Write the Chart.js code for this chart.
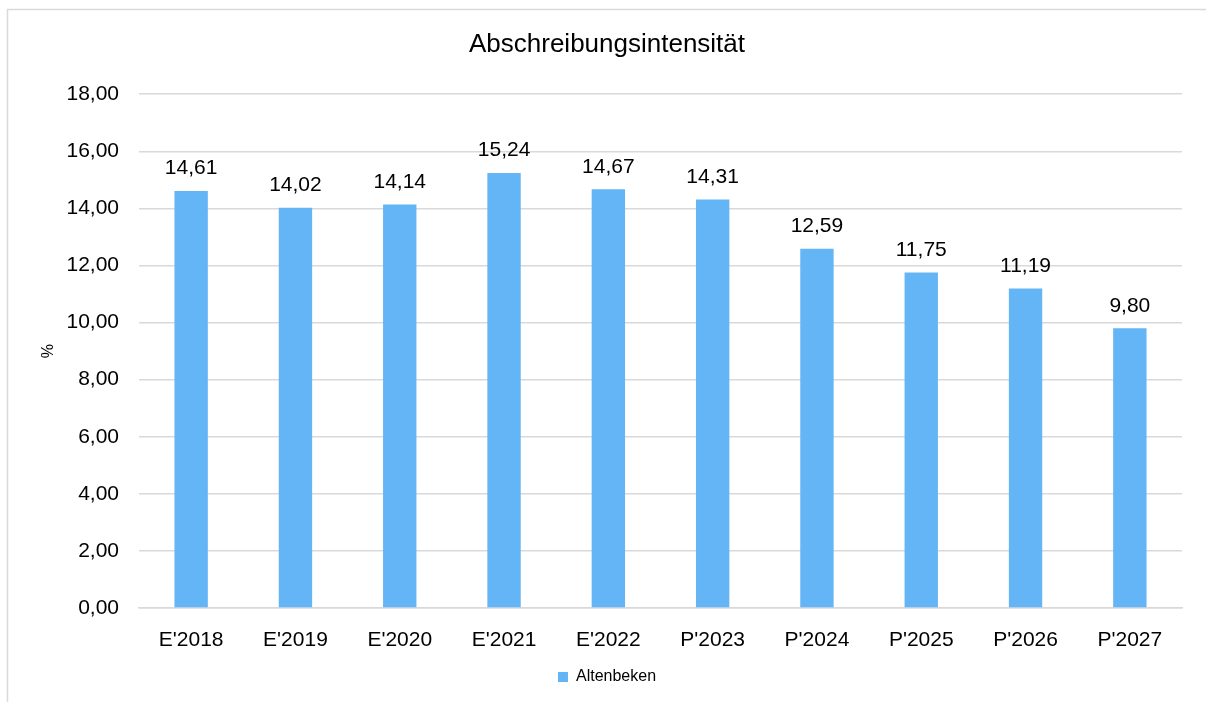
<!DOCTYPE html>
<html lang="de">
<head>
    <meta charset="UTF-8">
    <title>Abschreibungsintensität</title>
    <script src="https://cdn.jsdelivr.net/npm/chart.js"></script>
    <style>
        html, body { margin: 0; padding: 0; background: #fff; }
        #wrap { width: 1206px; height: 702px; }
    </style>
</head>
<body>
    <div id="wrap"><canvas id="chart"></canvas></div>
    <script>
        const categories = ["E'2018", "E'2019", "E'2020", "E'2021", "E'2022", "P'2023", "P'2024", "P'2025", "P'2026", "P'2027"];
        const values = [14.61, 14.02, 14.14, 15.24, 14.67, 14.31, 12.59, 11.75, 11.19, 9.80];
        const seriesName = 'Altenbeken';

        const fontFamily = '"Liberation Sans", Arial, sans-serif';
        const fmt = v => v.toFixed(2).replace('.', ',');

        // Rahmen um das Diagramm
        const framePlugin = {
            id: 'frame',
            beforeDraw(chart) {
                const c = chart.ctx;
                c.save();
                c.strokeStyle = '#d9d9d9';
                c.lineWidth = 1.5;
                c.beginPath();
                c.moveTo(7.5, 702);
                c.lineTo(7.5, 9.5);
                c.lineTo(1206, 9.5);
                c.stroke();
                c.restore();
            }
        };

        // Werte über den Balken
        const labelPlugin = {
            id: 'barLabels',
            afterDatasetsDraw(chart) {
                const c = chart.ctx;
                const meta = chart.getDatasetMeta(0);
                c.save();
                c.font = '21px ' + fontFamily;
                c.fillStyle = '#000';
                c.textAlign = 'center';
                c.textBaseline = 'bottom';
                meta.data.forEach((bar, i) => {
                    c.fillText(fmt(values[i]), bar.x, bar.y - 12);
                });
                c.restore();
            }
        };

        new Chart(document.getElementById('chart'), {
            type: 'bar',
            data: {
                labels: categories,
                datasets: [{
                    label: seriesName,
                    data: values,
                    backgroundColor: '#63b5f6',
                    borderWidth: 0,
                    categoryPercentage: 1,
                    barPercentage: 0.32
                }]
            },
            options: {
                responsive: true,
                maintainAspectRatio: false,
                animation: false,
                layout: { padding: { left: 32, right: 24, top: 23, bottom: 7 } },
                plugins: {
                    title: {
                        display: true,
                        text: 'Abschreibungsintensität',
                        color: '#000',
                        font: { family: fontFamily, size: 26, weight: 'normal' },
                        padding: { top: 6, bottom: 34 }
                    },
                    legend: {
                        position: 'bottom',
                        labels: {
                            color: '#000',
                            boxWidth: 10,
                            boxHeight: 10,
                            padding: 10,
                            font: { family: fontFamily, size: 16 }
                        }
                    },
                    tooltip: { enabled: false }
                },
                scales: {
                    x: {
                        grid: { display: false },
                        border: { color: '#d9d9d9', width: 1.5 },
                        ticks: {
                            color: '#000',
                            padding: 12,
                            font: { family: fontFamily, size: 21 }
                        },
                        afterFit(scale) { scale.height = 51; }
                    },
                    y: {
                        min: 0,
                        max: 18,
                        border: { display: false },
                        grid: { color: '#d9d9d9', lineWidth: 1.5, drawTicks: false },
                        title: {
                            display: true,
                            text: '%',
                            color: '#000',
                            padding: { top: 7, bottom: 0 },
                            font: { family: fontFamily, size: 16 }
                        },
                        ticks: {
                            stepSize: 2,
                            color: '#000',
                            padding: 20,
                            font: { family: fontFamily, size: 21 },
                            callback: v => fmt(v)
                        },
                        afterFit(scale) { scale.width = 107; }
                    }
                }
            },
            plugins: [framePlugin, labelPlugin]
        });
    </script>
</body>
</html>
